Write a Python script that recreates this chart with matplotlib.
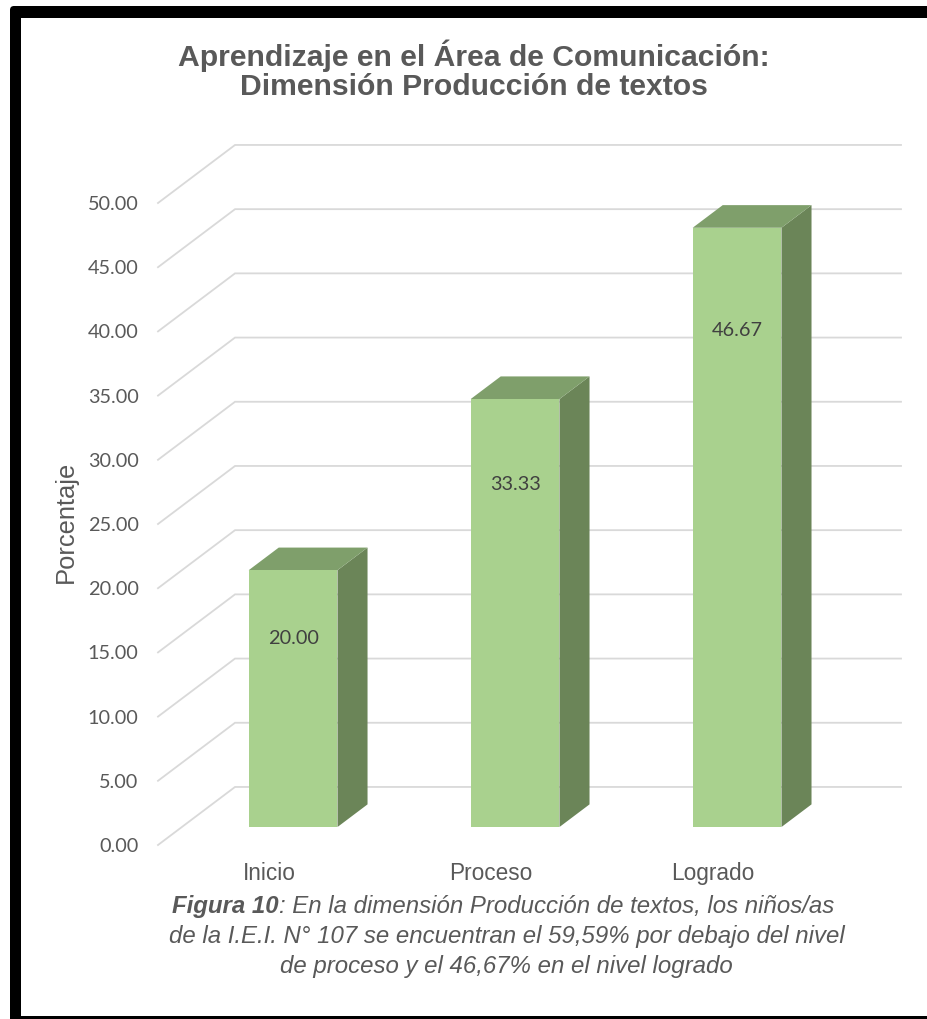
import matplotlib
matplotlib.use('Agg')
import matplotlib.pyplot as plt
from matplotlib.patches import Polygon, FancyBboxPatch, Rectangle

categories = ['Inicio', 'Proceso', 'Logrado']
values = [20.00, 33.33, 46.67]
value_labels = ['20.00', '33.33', '46.67']
y_ticks = [0, 5, 10, 15, 20, 25, 30, 35, 40, 45, 50]

W, H = 927, 1019
GRID = '#D9D9D9'
TEXT = '#595959'
FACE = '#A9D18E'
TOP = '#7F9F6B'
SIDE = '#6B8558'

# depth of the fake 3D box, in data units
DX = 0.347
DY = 4.52
BAR_W = 0.40
BAR_X = 0.001
BAR_D0 = 0.31
BAR_D1 = 0.70


def px_x(x):
    return x / W


def px_y(y):
    return 1 - y / H


def proj(x, y, d):
    return (x + d * DX, y + d * DY)


fig = plt.figure(figsize=(W / 100, H / 100), dpi=100, facecolor='white')

# frame
bg = fig.add_axes([0, 0, 1, 1], zorder=0)
bg.set_xlim(0, W)
bg.set_ylim(H, 0)
bg.axis('off')
bg.add_patch(FancyBboxPatch((13, 9), 960, 1040, boxstyle='round,pad=3,rounding_size=4',
                            fc='black', ec='none'))
bg.add_patch(Rectangle((21, 18), 950, 998, fc='white', ec='none'))

ax = fig.add_axes([px_x(158), px_y(845), 743 / W, 642 / H], zorder=1)
ax.patch.set_alpha(0)
ax.set_xlim(-0.5, 2.847)
ax.set_ylim(0, 50)
for s in ax.spines.values():
    s.set_visible(False)
ax.tick_params(length=0)

# walls
for v in y_ticks:
    x0, y0 = proj(-0.5, v, 0)
    x1, y1 = proj(-0.5, v, 1)
    x2, y2 = proj(2.5, v, 1)
    ax.plot([x0, x1, x2], [y0, y1, y2], color=GRID, lw=1.3, clip_on=False, zorder=1,
            solid_joinstyle='miter')

# bars
for i, v in enumerate(values):
    l = i + BAR_X - BAR_W / 2
    r = i + BAR_X + BAR_W / 2
    a = proj(l, 0, BAR_D0)
    b = proj(r, 0, BAR_D0)
    c = proj(r, v, BAR_D0)
    d = proj(l, v, BAR_D0)
    e = proj(r, 0, BAR_D1)
    f = proj(r, v, BAR_D1)
    g = proj(l, v, BAR_D1)
    ax.add_patch(Polygon([b, e, f, c], fc=SIDE, ec='none', zorder=2, clip_on=False))
    ax.add_patch(Polygon([d, c, f, g], fc=TOP, ec='none', zorder=2, clip_on=False))
    ax.add_patch(Polygon([a, b, c, d], fc=FACE, ec='none', zorder=3, clip_on=False))
    # labels sit a bit under the top of the front face
    lx, ly = proj(i + BAR_X, v * 0.9 - 3.3, BAR_D0)
    ax.text(lx, ly, value_labels[i], ha='center', va='center', fontsize=14.3,
            family='Lato', color='#404040', zorder=4)

ax.set_yticks(y_ticks)
ax.set_yticklabels(['%.2f' % t for t in y_ticks], family='Lato', fontsize=14.3, color=TEXT)
ax.tick_params(axis='y', pad=14)
ax.set_xticks(range(len(categories)))
ax.set_xticklabels(categories, family='Liberation Sans', fontsize=16.3, color=TEXT)
ax.tick_params(axis='x', pad=12)

fig.text(px_x(66), px_y(522), 'Porcentaje', rotation=90, ha='center', va='center',
         family='Liberation Sans', fontsize=18.4, color=TEXT)

fig.text(px_x(473.5), px_y(70), 'Aprendizaje en el Área de Comunicación:\nDimensión Producción de textos',
         ha='center', va='center', family='Liberation Sans', weight='bold', fontsize=21.7,
         color=TEXT, linespacing=1.03)

# caption, first line mixes bold and regular italic
cap_size = 17.3
renderer = fig.canvas.get_renderer()
t1 = fig.text(px_x(172), px_y(906), 'Figura 10', style='italic', weight='bold',
              family='Liberation Sans', fontsize=cap_size, color=TEXT, va='center')
w = t1.get_window_extent(renderer).width
fig.text(px_x(172 + w), px_y(906), ': En la dimensión Producción de textos, los niños/as',
         style='italic', family='Liberation Sans', fontsize=cap_size, color=TEXT, va='center')
fig.text(px_x(507), px_y(936), 'de la I.E.I. N° 107 se encuentran el 59,59% por debajo del nivel',
         style='italic', family='Liberation Sans', fontsize=cap_size, color=TEXT, va='center', ha='center')
fig.text(px_x(506), px_y(966), 'de proceso y el 46,67% en el nivel logrado',
         style='italic', family='Liberation Sans', fontsize=cap_size, color=TEXT, va='center', ha='center')

fig.savefig('out.png', dpi=100)
